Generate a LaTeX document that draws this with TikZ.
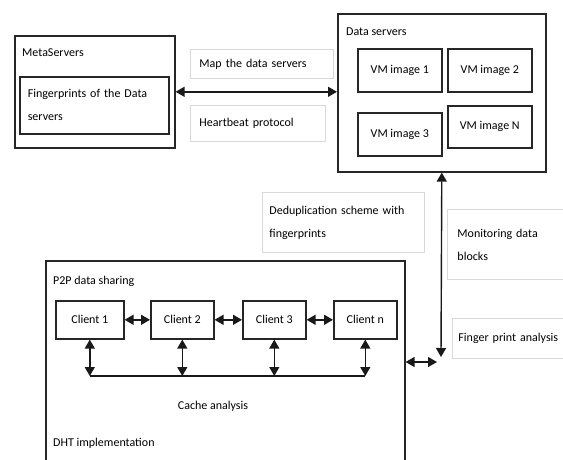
\documentclass[tikz,border=0pt]{standalone}
\usepackage{fontspec}
\setmainfont{Carlito}
\usetikzlibrary{arrows.meta}
\begin{document}
\begin{tikzpicture}[x=1pt,y=-1pt,
  font=\fontsize{12}{23}\selectfont,
  bigbox/.style={draw=black!85,line width=1.6pt,inner sep=0pt,anchor=north west},
  vmbox/.style={draw=black!85,line width=1.6pt,inner sep=0pt,align=center,anchor=north west,minimum height=43pt},
  lbl/.style={draw=black!15,line width=0.9pt,inner ysep=0pt,align=left,anchor=north west},
  txt/.style={inner sep=0pt,anchor=west},
  arr/.style={{Triangle[length=9pt,width=10pt]}-{Triangle[length=9pt,width=10pt]},line width=1.4pt,draw=black!90},
]
\useasboundingbox (0,0) rectangle (563,459);
\clip (0,0) rectangle (563,459);

% Meta servers
\node[bigbox, minimum width=160pt, minimum height=112pt] (meta) at (14,35) {};
\node[txt] (metat) at (22,53) {MetaServers};
\node[bigbox, align=left, inner xsep=8pt, text width=133pt, minimum height=57pt] (fp) at (19,76) {Fingerprints of the Data\\servers};

% labels
\node[lbl, inner xsep=9pt, text width=125pt, minimum height=29pt] (map) at (190,49) {Map the data servers};
\node[lbl, inner xsep=9pt, text width=117pt, minimum height=36pt] (hb) at (190,105) {Heartbeat protocol};

% Data servers
\node[bigbox, minimum width=208pt, minimum height=158pt] (ds) at (337,13) {};
\node[txt] (dst) at (346,32) {Data servers};
\node[vmbox, minimum width=84pt] (vm1) at (357,48) {VM image 1};
\node[vmbox, minimum width=84pt] (vm2) at (447,48) {VM image 2};
\node[vmbox, minimum width=84pt] (vm3) at (357,112) {VM image 3};
\node[vmbox, minimum width=84pt, minimum height=42pt] (vmn) at (447,105) {VM image N};

% side labels
\node[lbl, inner xsep=7pt, text width=148pt, minimum height=60pt] (dedup) at (262,192) {Deduplication scheme with\\fingerprints};
\node[lbl, inner xsep=10pt, text width=120pt, minimum height=70pt] (mon) at (447,209) {Monitoring data\\blocks};
\node[lbl, inner xsep=6pt, text width=140pt, minimum height=40pt] (fpa) at (452,318) {Finger print analysis};

% P2P
\node[bigbox, minimum width=359pt, minimum height=230pt] (p2p) at (45,260) {};
\node[txt] (p2pt) at (53,281) {P2P data sharing};
\node[bigbox, align=center, minimum width=68pt, minimum height=38pt] (c1) at (55,300) {Client 1};
\node[bigbox, align=center, minimum width=63pt, minimum height=38pt] (c2) at (150,300) {Client 2};
\node[bigbox, align=center, minimum width=63pt, minimum height=38pt] (c3) at (242,300) {Client 3};
\node[bigbox, align=center, minimum width=63pt, minimum height=38pt] (cn) at (333,300) {Client n};
\node[inner sep=0pt] (cache) at (213,406) {Cache analysis};
\node[txt] (dht) at (53,443) {DHT implementation};

% coordinates
\coordinate (busy) at (0,376);
\coordinate (vend) at (441,357);
\coordinate (hend) at (437,362);

% connectors
\draw[arr] (meta.east) -- (meta.east -| ds.west);
\draw[arr] (ds.south) -- (vend);
\draw[arr] (p2p.east |- hend) -- (hend);
\draw[arr] (c1) -- (c2);
\draw[arr] (c2) -- (c3);
\draw[arr] (c3) -- (cn);
\foreach \c in {c1,c2,c3,cn}{
  \draw[arr] (\c.south) -- (\c.south |- busy);
}
\draw[line width=1.4pt, black!90] (c1.south |- busy) -- (cn.south |- busy);
\end{tikzpicture}
\end{document}
